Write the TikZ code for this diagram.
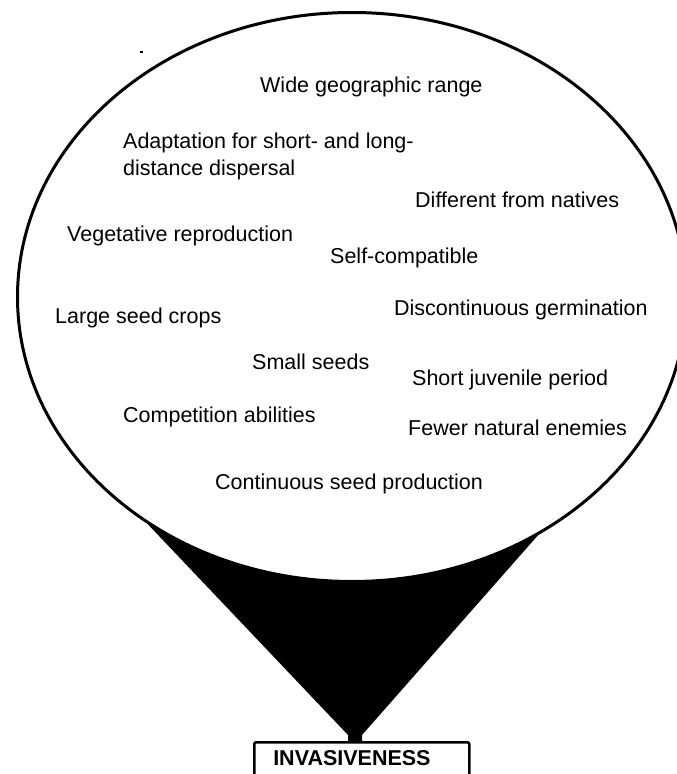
\documentclass[tikz,border=0pt]{standalone}
\usepackage{fontspec}
\setmainfont{Liberation Sans}
\usetikzlibrary{shapes,backgrounds}
\tikzstyle{trait} = [font=\fontsize{21.5}{27}\selectfont, inner sep=0pt, anchor=base west]
\tikzstyle{bubble} = [ellipse, draw, fill=white, line width=3pt,
    minimum width=669pt, minimum height=569pt, inner sep=0pt]
\tikzstyle{result} = [rectangle, draw, line width=2.5pt, rounded corners=2pt,
    font=\fontsize{21.5}{24}\selectfont\bfseries, anchor=north west,
    inner xsep=19pt, inner ysep=8pt, text width=177pt, align=left, text depth=30pt]

\begin{document}
\begin{tikzpicture}[x=1pt, y=-1pt]
    \useasboundingbox (0,0) rectangle (677,774);
    \clip (0,0) rectangle (677,774);
    % Place nodes
    \node [bubble] (traits) at (352,297) {};
    \node [result] (invas) at (253,741) {INVASIVENESS};
    \coordinate (tip) at (355,741);
    \node [trait] (range) at (260,92) {Wide geographic range};
    \node [trait, align=left] (disp) at (123,175.5) {Adaptation for short- and long-\\distance dispersal};
    \node [trait] (natives) at (415,207.5) {Different from natives};
    \node [trait] (veget) at (67,241) {Vegetative reproduction};
    \node [trait] (selfc) at (330,263.5) {Self-compatible};
    \node [trait] (crops) at (55,323) {Large seed crops};
    \node [trait] (germ) at (394,315.5) {Discontinuous germination};
    \node [trait] (small) at (252,369.5) {Small seeds};
    \node [trait] (juven) at (412,385.5) {Short juvenile period};
    \node [trait] (compet) at (123,422.5) {Competition abilities};
    \node [trait] (enem) at (408,435.5) {Fewer natural enemies};
    \node [trait] (contin) at (215,489.5) {Continuous seed production};
    % stray mark
    \fill (139.5,51) rectangle (142.5,53);
    % funnel
    \begin{scope}[on background layer]
    \fill (traits.228) -- ([shift={(-7,-6)}]tip) -- ([shift={(-7,1)}]tip)
        -- ([shift={(7,1)}]tip) -- ([shift={(7,-6)}]tip) -- (traits.308) -- cycle;
    \end{scope}

\end{tikzpicture}
\end{document}
